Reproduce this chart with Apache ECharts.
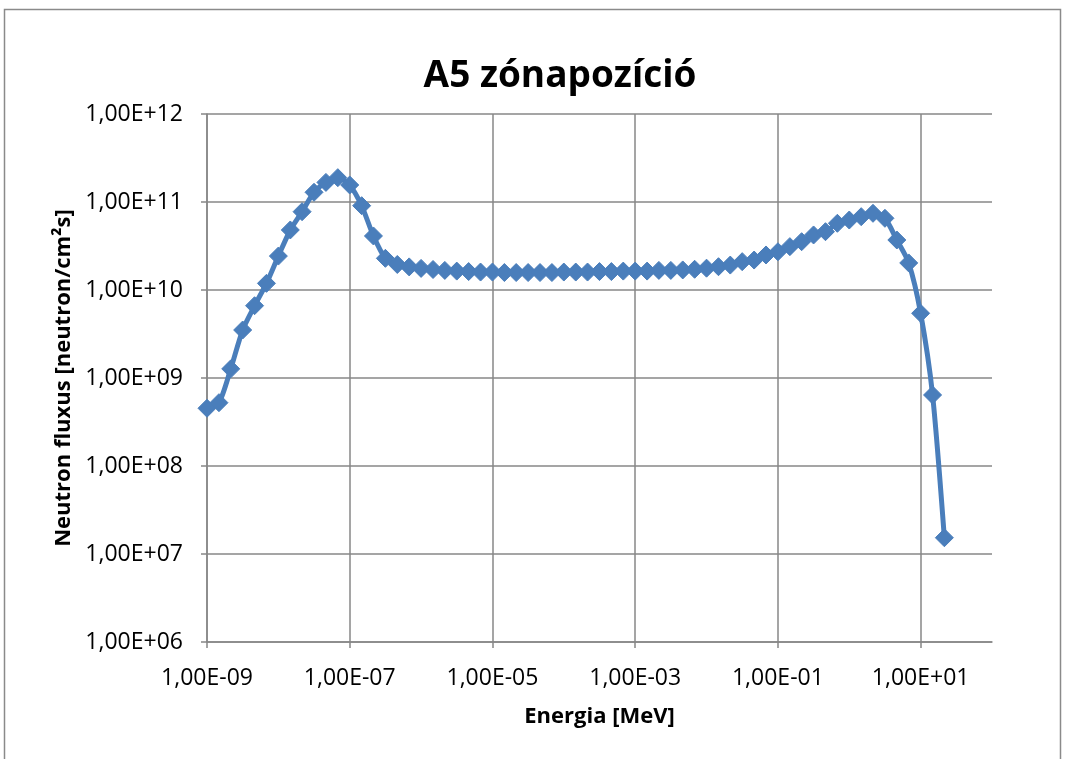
<!DOCTYPE html>
<html>
<head>
<meta charset="utf-8">
<script src="https://cdn.jsdelivr.net/npm/echarts@6/dist/echarts.min.js"></script>
<style>
html,body{margin:0;padding:0;background:#fff;}
#chart{width:1065px;height:759px;}
</style>
</head>
<body>
<div id="chart"></div>
<script>
// Energy [MeV]
const energy = [
  1.00e-9, 1.47e-9, 2.15e-9, 3.16e-9, 4.64e-9, 6.81e-9,
  1.00e-8, 1.47e-8, 2.15e-8, 3.16e-8, 4.64e-8, 6.81e-8,
  1.00e-7, 1.47e-7, 2.15e-7, 3.16e-7, 4.64e-7, 6.81e-7,
  1.00e-6, 1.47e-6, 2.15e-6, 3.16e-6, 4.64e-6, 6.81e-6,
  1.00e-5, 1.47e-5, 2.15e-5, 3.16e-5, 4.64e-5, 6.81e-5,
  1.00e-4, 1.47e-4, 2.15e-4, 3.16e-4, 4.64e-4, 6.81e-4,
  1.00e-3, 1.47e-3, 2.15e-3, 3.16e-3, 4.64e-3, 6.81e-3,
  1.00e-2, 1.47e-2, 2.15e-2, 3.16e-2, 4.64e-2, 6.81e-2,
  1.00e-1, 1.47e-1, 2.15e-1, 3.16e-1, 4.64e-1, 6.81e-1,
  1.00, 1.47, 2.15, 3.16, 4.64, 6.81,
  10.0, 14.7, 21.5
];
// Neutron flux [neutron/cm2 s]
const flux = [
  4.53e8, 5.24e8, 1.27e9, 3.51e9, 6.63e9, 1.19e10,
  2.43e10, 4.81e10, 7.76e10, 1.29e11, 1.67e11, 1.89e11,
  1.56e11, 9.08e10, 4.11e10, 2.29e10, 1.95e10, 1.83e10,
  1.76e10, 1.71e10, 1.67e10, 1.64e10, 1.62e10, 1.60e10,
  1.60e10, 1.58e10, 1.58e10, 1.58e10, 1.58e10, 1.58e10,
  1.60e10, 1.60e10, 1.60e10, 1.62e10, 1.62e10, 1.64e10,
  1.64e10, 1.64e10, 1.67e10, 1.67e10, 1.69e10, 1.72e10,
  1.77e10, 1.84e10, 1.92e10, 2.10e10, 2.19e10, 2.50e10,
  2.72e10, 3.11e10, 3.54e10, 4.22e10, 4.60e10, 5.73e10,
  6.24e10, 6.81e10, 7.44e10, 6.53e10, 3.70e10, 2.03e10,
  5.44e9, 6.41e8, 1.53e7
];
const xTickExponents = [-9, -7, -5, -3, -1, 1];
const yTickExponents = [6, 7, 8, 9, 10, 11, 12];

const titleText = 'A5 zónapozíció';
const xTitle = 'Energia [MeV]';
const yTitle = 'Neutron fluxus [neutron/cm²s]';

function sci(v) {
  const e = Math.round(Math.log10(v));
  const sign = e < 0 ? '-' : '+';
  const a = Math.abs(e);
  return '1,00E' + sign + (a < 10 ? '0' + a : '' + a);
}

const FONT = '"Open Sans", "Noto Sans", sans-serif';
const GRID = '#878787';
const BLUE = '#4A7EBB';

const chart = echarts.init(document.getElementById('chart'), null, {renderer: 'canvas'});
chart.setOption({
  animation: false,
  backgroundColor: '#ffffff',
  textStyle: {fontFamily: FONT},
  graphic: [{
    type: 'rect',
    shape: {x: 4.5, y: 9.5, width: 1056, height: 800},
    style: {fill: 'none', stroke: '#8a8a8a', lineWidth: 1.5},
    silent: true,
    z: -10
  }],
  title: {
    text: titleText,
    left: 555,
    top: 53,
    textAlign: 'center',
    textStyle: {fontFamily: FONT, fontSize: 37, fontWeight: 'bold', color: '#000'}
  },
  grid: {left: 207, top: 114, width: 785, height: 528, containLabel: false},
  xAxis: {
    type: 'log',
    logBase: 10,
    min: 1e-9,
    max: 1e2,
    interval: 2,
    name: xTitle,
    nameLocation: 'middle',
    nameGap: 64,
    nameTextStyle: {fontFamily: FONT, fontSize: 22, fontWeight: 'bold', color: '#000'},
    axisLine: {show: true, lineStyle: {color: GRID, width: 1.5}},
    axisTick: {show: true, length: 6, lineStyle: {color: GRID, width: 1.5}},
    axisLabel: {
      fontFamily: FONT, fontSize: 23, color: '#000', margin: 25,
      showMaxLabel: false,
      formatter: function (v) {
        const e = Math.round(Math.log10(v));
        return xTickExponents.indexOf(e) >= 0 ? sci(v) : '';
      }
    },
    splitLine: {show: true, showMaxLine: false, lineStyle: {color: GRID, width: 1.5}},
    minorTick: {show: false}
  },
  yAxis: {
    type: 'log',
    logBase: 10,
    min: 1e6,
    max: 1e12,
    interval: 1,
    name: yTitle,
    nameLocation: 'middle',
    nameGap: 132,
    nameRotate: 90,
    nameTextStyle: {fontFamily: FONT, fontSize: 22, fontWeight: 'bold', color: '#000'},
    axisLine: {show: true, lineStyle: {color: GRID, width: 1.5}},
    axisTick: {show: true, length: 6, lineStyle: {color: GRID, width: 1.5}},
    axisLabel: {
      fontFamily: FONT, fontSize: 23, color: '#000', margin: 24,
      formatter: function (v) {
        const e = Math.round(Math.log10(v));
        return yTickExponents.indexOf(e) >= 0 ? sci(v) : '';
      }
    },
    splitLine: {show: true, lineStyle: {color: GRID, width: 1.5}}
  },
  series: [{
    type: 'line',
    data: energy.map(function (e, i) { return [e, flux[i]]; }),
    smooth: 0.25,
    symbol: 'diamond',
    symbolSize: 18,
    showAllSymbol: true,
    lineStyle: {color: BLUE, width: 5},
    itemStyle: {color: BLUE, borderColor: BLUE, borderWidth: 1},
    z: 5
  }]
});
</script>
</body>
</html>
